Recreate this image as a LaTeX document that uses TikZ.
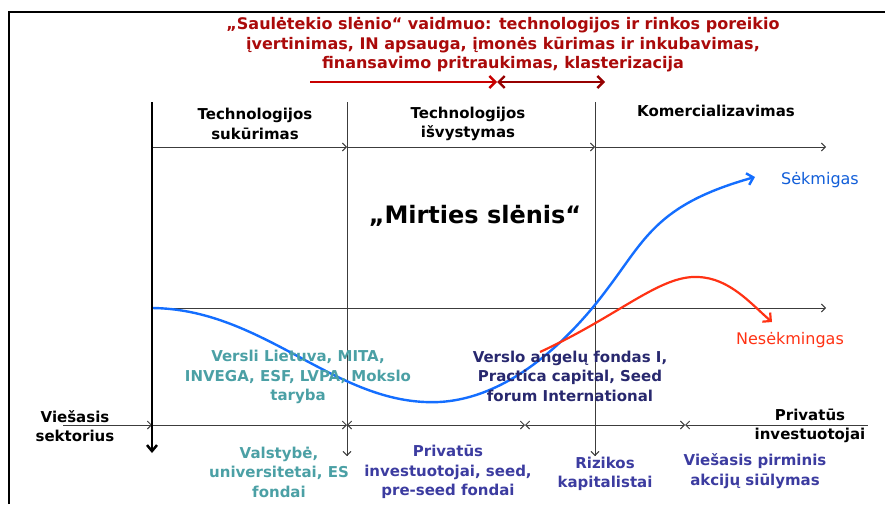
\documentclass[tikz,border=0pt]{standalone}
\usepackage{fontspec}
\setmainfont{DejaVu Sans}
\usepackage{tikz}
\usetikzlibrary{arrows.meta}
\usetikzlibrary{positioning}
\definecolor{titlered}{RGB}{170,10,10}
\definecolor{arrred}{RGB}{200,0,0}
\definecolor{arrdark}{RGB}{150,0,0}
\definecolor{tealtxt}{RGB}{75,160,165}
\definecolor{navytxt}{RGB}{40,40,110}
\definecolor{violettxt}{RGB}{60,60,160}
\definecolor{curveblue}{RGB}{20,110,255}
\definecolor{curvered}{RGB}{255,50,20}
\definecolor{axisgray}{RGB}{60,60,60}
\tikzset{txt/.style={align=center, inner sep=0pt, font=\bfseries\fontsize{15}{19.5}\selectfont},
title/.style={txt, text=titlered, font=\bfseries\fontsize{16}{19.5}\selectfont},
pub/.style={txt, text=tealtxt},
angel/.style={txt, text=navytxt},
priv/.style={txt, text=violettxt},
axis/.style={color=axisgray, line width=0.9pt},
>={Straight Barb[length=4pt,width=8pt]}}
\begin{document}
\begin{tikzpicture}[x=1pt,y=-1pt]
  \useasboundingbox (0,0) rectangle (885,504);
  % frame
  \draw [line width=2.5pt] (9,504) -- (9,12) -- (885,12);
  % points
  \coordinate (top0) at (152,102); \coordinate (bot0) at (152,453);
  \coordinate (top1) at (347,102); \coordinate (bot1) at (347,456);
  \coordinate (top2) at (595,102); \coordinate (bot2) at (595,456);
  \coordinate (p0) at (152,147); \coordinate (p1) at (347,147);
  \coordinate (p2) at (595,147); \coordinate (p3) at (826,147);
  \coordinate (m0) at (152,308); \coordinate (m1) at (826,308);
  \coordinate (s0) at (63,425); \coordinate (s1) at (152,425);
  \coordinate (s2) at (347,425); \coordinate (s3) at (525,425);
  \coordinate (s4) at (685,425); \coordinate (s5) at (868,425);
  \coordinate (r0) at (310,82); \coordinate (r1) at (497,82);
  \coordinate (r2) at (605,82);
  % titles
  \node (role) [title] at (503,45) {„Saulėtekio slėnio“ vaidmuo: technologijos ir rinkos poreikio\\
    įvertinimas, IN apsauga, įmonės kūrimas ir inkubavimas,\\
    finansavimo pritraukimas, klasterizacija};
  \draw [-{Straight Barb[length=6pt,width=12pt]}, arrred, line width=2.4pt] (r0) -- (r1);
  \draw [{Straight Barb[length=6pt,width=12pt]}-{Straight Barb[length=6pt,width=12pt]}, arrdark, line width=2.4pt] (r1) -- (r2);
  % phases
  \draw [axis] (top1) -- (bot1);
  \draw [axis] (top2) -- (bot2);
  \draw [axis,->] (bot1) ++(0,-2) -- (bot1);
  \draw [axis,->] (bot2) ++(0,-2) -- (bot2);
  \draw [axis,->] (p0) -- (p1);
  \draw [axis,->] (p1) -- (p2);
  \draw [axis,->] (p2) -- (p3);
  \node (create) [txt] at (255,124) {Technologijos\\sukūrimas};
  \node (develop) [txt] at (468,124) {Technologijos\\išvystymas};
  \node (market) [txt] at (716,111) {Komercializavimas};
  \node (death) [txt, font=\bfseries\fontsize{24}{28}\selectfont] at (475,216) {„Mirties slėnis“};
  % middle and bottom axes
  \draw [axis,->] (m0) -- (m1);
  \draw [axis,->] (s0) -- (s1);
  \draw [axis,->] (s1) -- (s2);
  \draw [axis,<->] (s2) -- (s3);
  \draw [axis,<->] (s3) -- (s4);
  \draw [axis,<-] (s4) -- (s5);
  % curves
  \draw [curveblue, line width=2.4pt, -{Straight Barb[length=6pt,width=12pt]}] (m0) .. controls (260,309) and (330,398) .. (425,402)
    .. controls (500,406) and (565,345) .. (605,292)
    .. controls (645,240) and (655,205) .. (755,177);
  \draw [curvered, line width=2.2pt, -{Straight Barb[length=6pt,width=12pt]}] (540,352) .. controls (620,315) and (660,275) .. (698,277)
    .. controls (730,278) and (752,305) .. (772,322);
  \node (win) [font=\fontsize{16}{18}\selectfont, text=curveblue!85!black, inner sep=0pt] at (820,180) {Sėkmigas};
  \node (lose) [font=\fontsize{16}{18}\selectfont, text=curvered, inner sep=0pt] at (790,340) {Nesėkmingas};
  % main axis
  \draw [line width=2.5pt, -{Straight Barb[length=6pt,width=10pt]}] (top0) -- (bot0);
  % funding sources
  \node (agency) [pub] at (298,377) {Versli Lietuva, MITA,\\INVEGA, ESF, LVPA, Mokslo\\taryba};
  \node (angels) [angel] at (570,376) {Verslo angelų fondas I,\\Practica capital, Seed\\forum International};
  \node (public) [txt] at (75,426) {Viešasis\\sektorius};
  \node (private) [txt] at (810,426) {Privatūs\\investuotojai};
  \node (state) [pub] at (279,472) {Valstybė,\\universitetai, ES\\fondai};
  \node (seed) [priv] at (448,472) {Privatūs\\investuotojai, seed,\\pre-seed fondai};
  \node (venture) [priv] at (605,474) {Rizikos\\kapitalistai};
  \node (ipo) [priv] at (755,471) {Viešasis pirminis\\akcijų siūlymas};
\end{tikzpicture}
\end{document}
